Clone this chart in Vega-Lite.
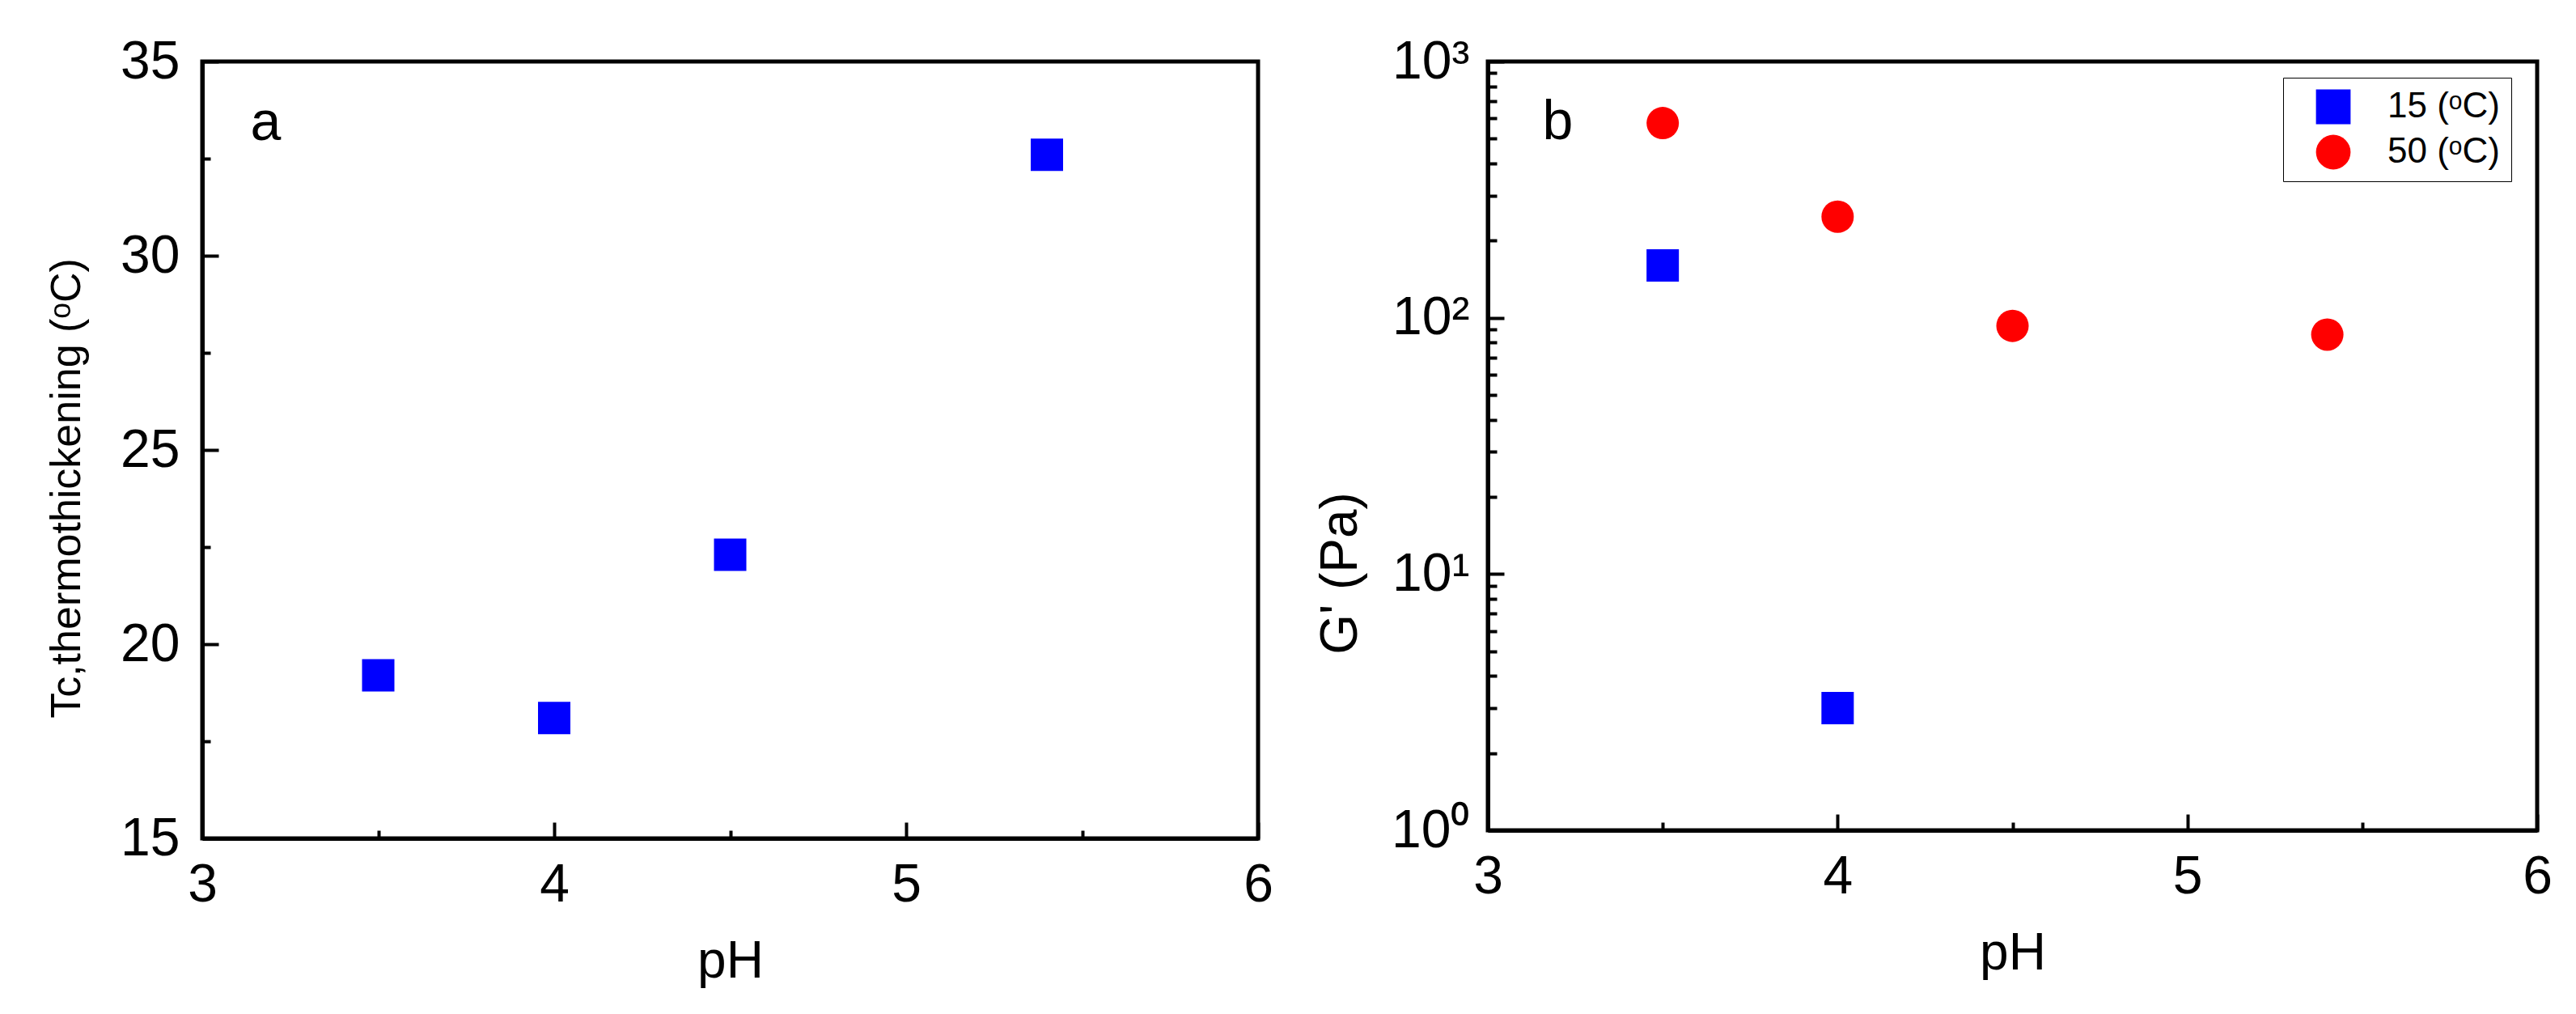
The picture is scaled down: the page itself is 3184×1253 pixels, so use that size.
{
  "$schema": "https://vega.github.io/schema/vega-lite/v6.json",
  "background": "white",
  "padding": {"left": 54, "top": 40, "right": 10, "bottom": 10},
  "config": {
    "font": "Liberation Sans",
    "view": {"stroke": "black", "strokeWidth": 5},
    "axis": {
      "domainColor": "black", "domainWidth": 5, "tickColor": "black", "tickWidth": 4,
      "grid": false, "labelFontSize": 66, "labelColor": "black", "labelFont": "Liberation Sans",
      "titleFontSize": 64, "titleColor": "black", "titleFontWeight": "normal", "titleFont": "Liberation Sans",
      "labelFlush": false, "labelOverlap": false
    },
    "concat": {"spacing": 47}
  },
  "datasets": {
    "tc": [
      {"pH": 3.5, "T": 19.2},
      {"pH": 4.0, "T": 18.1},
      {"pH": 4.5, "T": 22.3},
      {"pH": 5.4, "T": 32.6}
    ],
    "gp": [
      {"pH": 3.5, "G": 160, "series": "15 (ᵒC)"},
      {"pH": 4.0, "G": 3, "series": "15 (ᵒC)"},
      {"pH": 3.5, "G": 575, "series": "50 (ᵒC)"},
      {"pH": 4.0, "G": 248, "series": "50 (ᵒC)"},
      {"pH": 4.5, "G": 93, "series": "50 (ᵒC)"},
      {"pH": 5.4, "G": 86, "series": "50 (ᵒC)"}
    ]
  },
  "resolve": {
    "scale": {"color": "independent", "shape": "independent"},
    "legend": {"color": "independent", "shape": "independent"}
  },
  "hconcat": [
    {
      "width": 1305, "height": 960,
      "layer": [
        {
          "data": {"name": "tc"},
          "mark": {"type": "point", "shape": "square", "filled": true, "size": 1600, "color": "#0000FF", "opacity": 1},
          "encoding": {
            "x": {"field": "pH", "type": "quantitative",
                  "scale": {"domain": [3, 6], "nice": false, "zero": false},
                  "axis": {"orient": "bottom", "values": [3, 4, 5, 6], "tickSize": -20, "labelPadding": 45, "title": "pH", "titlePadding": 30, "format": "d"}},
            "y": {"field": "T", "type": "quantitative",
                  "scale": {"domain": [15, 35], "nice": false, "zero": false},
                  "axis": {"orient": "left", "values": [15, 20, 25, 30, 35], "tickSize": -20, "labelPadding": 48, "title": "Tc,thermothickening (ᵒC)", "titleFontSize": 52, "titlePadding": 39, "titleY": 527, "format": "d"}}
          }
        },
        {
          "data": {"values": [{}]},
          "mark": {"type": "text", "fontSize": 68, "font": "Liberation Sans", "color": "black"},
          "encoding": {
            "x": {"datum": 3.18, "type": "quantitative",
                  "axis": {"orient": "bottom", "values": [3.5, 4.5, 5.5], "tickSize": -10, "labels": false, "domain": false, "title": null}},
            "y": {"datum": 33.4, "type": "quantitative",
                  "axis": {"orient": "left", "values": [17.5, 22.5, 27.5, 32.5], "tickSize": -10, "labels": false, "domain": false, "title": null}},
            "text": {"value": "a"}
          }
        }
      ],
      "resolve": {"axis": {"x": "independent", "y": "independent"}}
    },
    {
      "width": 1297, "height": 950,
      "layer": [
        {
          "data": {"name": "gp"},
          "mark": {"type": "point", "filled": true, "size": 1600, "opacity": 1},
          "encoding": {
            "x": {"field": "pH", "type": "quantitative",
                  "scale": {"domain": [3, 6], "nice": false, "zero": false},
                  "axis": {"orient": "bottom", "values": [3, 4, 5, 6], "tickSize": -20, "labelPadding": 45, "title": "pH", "titlePadding": 30, "format": "d"}},
            "y": {"field": "G", "type": "quantitative",
                  "scale": {"type": "log", "domain": [1, 1000], "nice": false},
                  "axis": {"orient": "left", "values": [1, 10, 100, 1000], "tickSize": -20, "labelPadding": 43, "title": "G' (Pa)", "titlePadding": 30, "titleY": 632,
                           "labelExpr": "datum.value == 1 ? '10⁰' : datum.value == 10 ? '10¹' : datum.value == 100 ? '10²' : '10³'"}},
            "color": {"field": "series", "type": "nominal",
                      "scale": {"domain": ["15 (ᵒC)", "50 (ᵒC)"], "range": ["#0000FF", "#FF0000"]},
                      "legend": {"orient": "none", "legendX": 983, "legendY": 20, "title": null,
                                 "strokeColor": "black", "fillColor": "white", "padding": 14,
                                 "symbolOffset": 26, "symbolSize": 1830, "symbolStrokeWidth": 0,
                                 "labelFontSize": 44, "labelOffset": 45, "rowPadding": 12, "labelFont": "Liberation Sans", "labelColor": "black"}},
            "shape": {"field": "series", "type": "nominal",
                      "scale": {"domain": ["15 (ᵒC)", "50 (ᵒC)"], "range": ["square", "circle"]}}
          }
        },
        {
          "data": {"values": [{}]},
          "mark": {"type": "text", "fontSize": 68, "font": "Liberation Sans", "color": "black"},
          "encoding": {
            "x": {"datum": 3.2, "type": "quantitative",
                  "axis": {"orient": "bottom", "values": [3.5, 4.5, 5.5], "tickSize": -10, "labels": false, "domain": false, "title": null}},
            "y": {"datum": 575, "type": "quantitative",
                  "axis": {"orient": "left", "values": [2,3,4,5,6,7,8,9,20,30,40,50,60,70,80,90,200,300,400,500,600,700,800,900], "tickSize": -11, "labels": false, "domain": false, "title": null}},
            "text": {"value": "b"}
          }
        }
      ],
      "resolve": {"axis": {"x": "independent", "y": "independent"}}
    }
  ]
}
